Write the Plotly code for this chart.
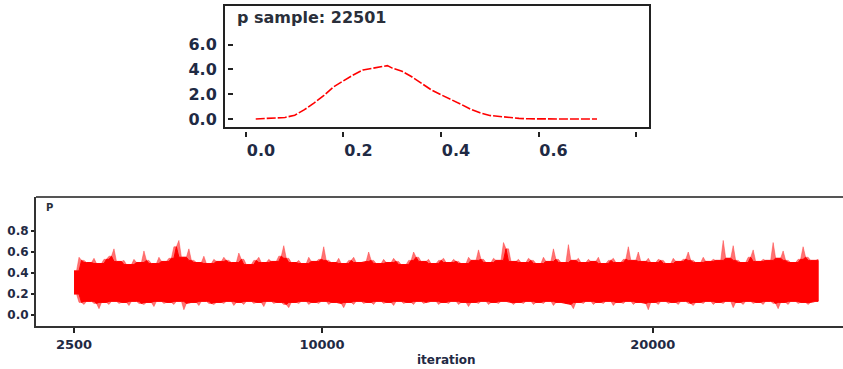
import plotly.graph_objects as go
import numpy as np

# ---- density panel data ----
dens_x = [0.02, 0.05, 0.08, 0.10, 0.12, 0.14, 0.16, 0.18, 0.20, 0.22, 0.24, 0.26, 0.28, 0.29,
          0.30, 0.32, 0.34, 0.36, 0.38, 0.40, 0.42, 0.44, 0.46, 0.48, 0.50, 0.52, 0.54, 0.56,
          0.58, 0.60, 0.65, 0.72]
dens_y = [0.0, 0.03, 0.12, 0.30, 0.75, 1.3, 1.9, 2.6, 3.1, 3.55, 3.95, 4.1, 4.25, 4.3,
          4.1, 3.85, 3.4, 2.85, 2.35, 1.95, 1.6, 1.2, 0.8, 0.5, 0.28, 0.2, 0.1, 0.05,
          0.01, 0.0, 0.0, 0.0]
dens_xticks = [0.0, 0.2, 0.4, 0.6, 0.8]
dens_xticklabels = ["0.0", "0.2", "0.4", "0.6", ""]
dens_yticks = [0.0, 2.0, 4.0, 6.0]
sample_size = 22501

# ---- trace panel data (upper / lower envelope of the chain) ----
iter_start = 2501
iter_end = 25000
trace_upper = [
    0.42, 0.55, 0.52, 0.50, 0.54, 0.49, 0.53, 0.56, 0.63, 0.51,
    0.52, 0.48, 0.53, 0.50, 0.61, 0.52, 0.49, 0.55, 0.51, 0.54,
    0.65, 0.71, 0.55, 0.63, 0.52, 0.50, 0.56, 0.49, 0.53, 0.51,
    0.55, 0.52, 0.50, 0.59, 0.53, 0.48, 0.52, 0.55, 0.50, 0.53,
    0.51, 0.56, 0.66, 0.54, 0.50, 0.52, 0.49, 0.55, 0.51, 0.53,
    0.65, 0.52, 0.50, 0.54, 0.49, 0.52, 0.55, 0.50, 0.51, 0.60,
    0.52, 0.49, 0.53, 0.50, 0.54, 0.51, 0.48, 0.52, 0.60, 0.55,
    0.51, 0.53, 0.49, 0.52, 0.54, 0.50, 0.53, 0.51, 0.49, 0.55,
    0.52, 0.62, 0.53, 0.50, 0.54, 0.52, 0.69, 0.63, 0.51, 0.53,
    0.50, 0.54, 0.52, 0.49, 0.55, 0.51, 0.63, 0.53, 0.50, 0.67,
    0.52, 0.54, 0.50, 0.53, 0.51, 0.55, 0.49, 0.52, 0.54, 0.50,
    0.53, 0.65, 0.52, 0.60, 0.51, 0.54, 0.50, 0.53, 0.52, 0.49,
    0.54, 0.51, 0.53, 0.60, 0.52, 0.50, 0.55, 0.51, 0.53, 0.52,
    0.71, 0.54, 0.66, 0.52, 0.50, 0.55, 0.62, 0.51, 0.53, 0.52,
    0.69, 0.54, 0.61, 0.52, 0.50, 0.53, 0.65, 0.55, 0.52, 0.53,
]
trace_lower = [
    0.20, 0.12, 0.10, 0.13, 0.11, 0.06, 0.12, 0.10, 0.13, 0.11,
    0.12, 0.09, 0.13, 0.11, 0.10, 0.12, 0.08, 0.13, 0.11, 0.12,
    0.10, 0.13, 0.05, 0.11, 0.12, 0.09, 0.13, 0.11, 0.10, 0.12,
    0.11, 0.13, 0.09, 0.12, 0.10, 0.13, 0.11, 0.12, 0.08, 0.13,
    0.11, 0.12, 0.10, 0.07, 0.12, 0.11, 0.13, 0.10, 0.12, 0.11,
    0.13, 0.10, 0.12, 0.11, 0.07, 0.12, 0.10, 0.13, 0.11, 0.12,
    0.10, 0.13, 0.11, 0.12, 0.09, 0.13, 0.11, 0.12, 0.10, 0.13,
    0.11, 0.12, 0.13, 0.10, 0.12, 0.11, 0.13, 0.10, 0.12, 0.08,
    0.12, 0.11, 0.13, 0.10, 0.12, 0.11, 0.13, 0.12, 0.10, 0.12,
    0.11, 0.13, 0.10, 0.12, 0.11, 0.13, 0.09, 0.12, 0.11, 0.10,
    0.06, 0.12, 0.11, 0.13, 0.10, 0.12, 0.11, 0.13, 0.09, 0.12,
    0.11, 0.13, 0.10, 0.12, 0.11, 0.05, 0.12, 0.10, 0.13, 0.11,
    0.12, 0.10, 0.13, 0.11, 0.09, 0.12, 0.11, 0.13, 0.10, 0.12,
    0.11, 0.13, 0.07, 0.12, 0.10, 0.13, 0.11, 0.12, 0.10, 0.13,
    0.11, 0.06, 0.12, 0.10, 0.13, 0.11, 0.12, 0.10, 0.12, 0.13,
]
trace_xticks = [2500, 10000, 20000]
trace_yticks = [0.0, 0.2, 0.4, 0.6, 0.8]

# chain envelope: spiky outer edge through every read value, valleys between neighbours
env_iter = np.linspace(iter_start, iter_end, len(trace_upper))
half = (env_iter[1] - env_iter[0]) / 2
up_x, up_y, lo_y = [], [], []
valley_up, valley_lo, valley_x = [], [], []
for i in range(len(trace_upper)):
    up_x.append(env_iter[i]); up_y.append(trace_upper[i]); lo_y.append(trace_lower[i])
    if i < len(trace_upper) - 1:
        up_x.append(env_iter[i] + half)
        up_y.append(min(trace_upper[i], trace_upper[i + 1]))
        lo_y.append(max(trace_lower[i], trace_lower[i + 1]))
poly_x = up_x + up_x[::-1]
poly_y = up_y + lo_y[::-1]
# inner solid body: valleys only
core_up = [min(up_y[max(k - 1, 0):k + 2]) for k in range(len(up_y))]
core_lo = [max(lo_y[max(k - 1, 0):k + 2]) for k in range(len(lo_y))]
core_x = up_x + up_x[::-1]
core_y = core_up + core_lo[::-1]

W, H = 843, 369
def px(x):
    return x / W
def py(y):
    return 1 - y / H

TXT = "#1f2a44"
FONT = "DejaVu Sans, Verdana, sans-serif"

fig = go.Figure()
fig.add_trace(go.Scatter(x=dens_x, y=dens_y, mode="lines",
                         line=dict(color="#ff0000", width=1.6, dash="9px,2px"),
                         xaxis="x", yaxis="y", showlegend=False, hoverinfo="skip"))
fig.add_trace(go.Scatter(x=poly_x, y=poly_y, mode="lines", fill="toself",
                         fillcolor="rgba(255,0,0,0.55)",
                         line=dict(color="rgba(255,60,60,0.6)", width=0.8),
                         xaxis="x2", yaxis="y2", showlegend=False, hoverinfo="skip"))
fig.add_trace(go.Scatter(x=core_x, y=core_y, mode="lines", fill="toself",
                         fillcolor="#ff0000",
                         line=dict(color="#ff0000", width=1),
                         xaxis="x2", yaxis="y2", showlegend=False, hoverinfo="skip"))

fig.update_layout(
    width=W, height=H,
    margin=dict(l=0, r=0, t=0, b=0),
    paper_bgcolor="white", plot_bgcolor="white",
    font=dict(family=FONT, color=TXT),
    xaxis=dict(domain=[px(224), px(650)], range=[-0.0451, 0.8287],
               anchor="free", position=py(131),
               tickvals=dens_xticks, ticktext=dens_xticklabels,
               ticks="outside", ticklen=5, tickwidth=1.5, tickcolor="#222",
               ticklabelshift=15,
               showline=False, showgrid=False, zeroline=False,
               tickfont=dict(size=16, color=TXT, weight="bold")),
    yaxis=dict(domain=[py(128), py(5)], range=[-0.73, 9.19],
               anchor="free", position=px(233),
               tickvals=dens_yticks, tickformat=".1f",
               ticks="outside", ticklen=5, tickwidth=1.5, tickcolor="#222",
               ticklabelstandoff=8,
               showline=False, showgrid=False, zeroline=False,
               tickfont=dict(size=16, color=TXT, weight="bold")),
    xaxis2=dict(domain=[px(36), 1.0], range=[1351, 25753], anchor="y2",
                tickvals=trace_xticks, ticktext=[str(v) for v in trace_xticks],
                ticks="outside", ticklen=5, tickwidth=1.5,
                tickcolor="#222", showline=True, linecolor="#333", linewidth=2,
                showgrid=False, zeroline=False,
                tickfont=dict(size=13, color=TXT, weight="bold")),
    yaxis2=dict(domain=[py(326), py(197)], range=[-0.105, 1.124], anchor="x2",
                tickvals=trace_yticks, tickformat=".1f",
                ticks="outside", ticklen=3, tickwidth=1.5, tickcolor="#222",
                showline=True, linecolor="#333", linewidth=2,
                showgrid=False, zeroline=False,
                tickfont=dict(size=12, color=TXT, weight="bold")),
)

# frames
fig.add_shape(type="rect", xref="x domain", yref="y domain", x0=0, x1=1, y0=0, y1=1,
              line=dict(color="#222", width=2), layer="above")
fig.add_shape(type="line", xref="x2 domain", yref="y2 domain", x0=0, x1=1, y0=1, y1=1,
              line=dict(color="#555", width=2), layer="above")

fig.add_annotation(text=f"<b>p sample: {sample_size}</b>", xref="paper", yref="paper",
                   x=px(235), y=py(17), xanchor="left", yanchor="middle",
                   showarrow=False, font=dict(size=16, color="#2a2f3a"))
fig.add_annotation(text="<b>P</b>", xref="paper", yref="paper",
                   x=px(44), y=py(207), xanchor="left", yanchor="middle",
                   showarrow=False, font=dict(size=10, color="#2a2f3a"))
fig.add_annotation(text="<b>iteration</b>", xref="paper", yref="paper",
                   x=px(447), y=py(360), xanchor="center", yanchor="middle",
                   showarrow=False, font=dict(size=12, color=TXT))

fig.write_html("out.html", post_script="document.body.style.margin='0';",
               config={"displayModeBar": False})
